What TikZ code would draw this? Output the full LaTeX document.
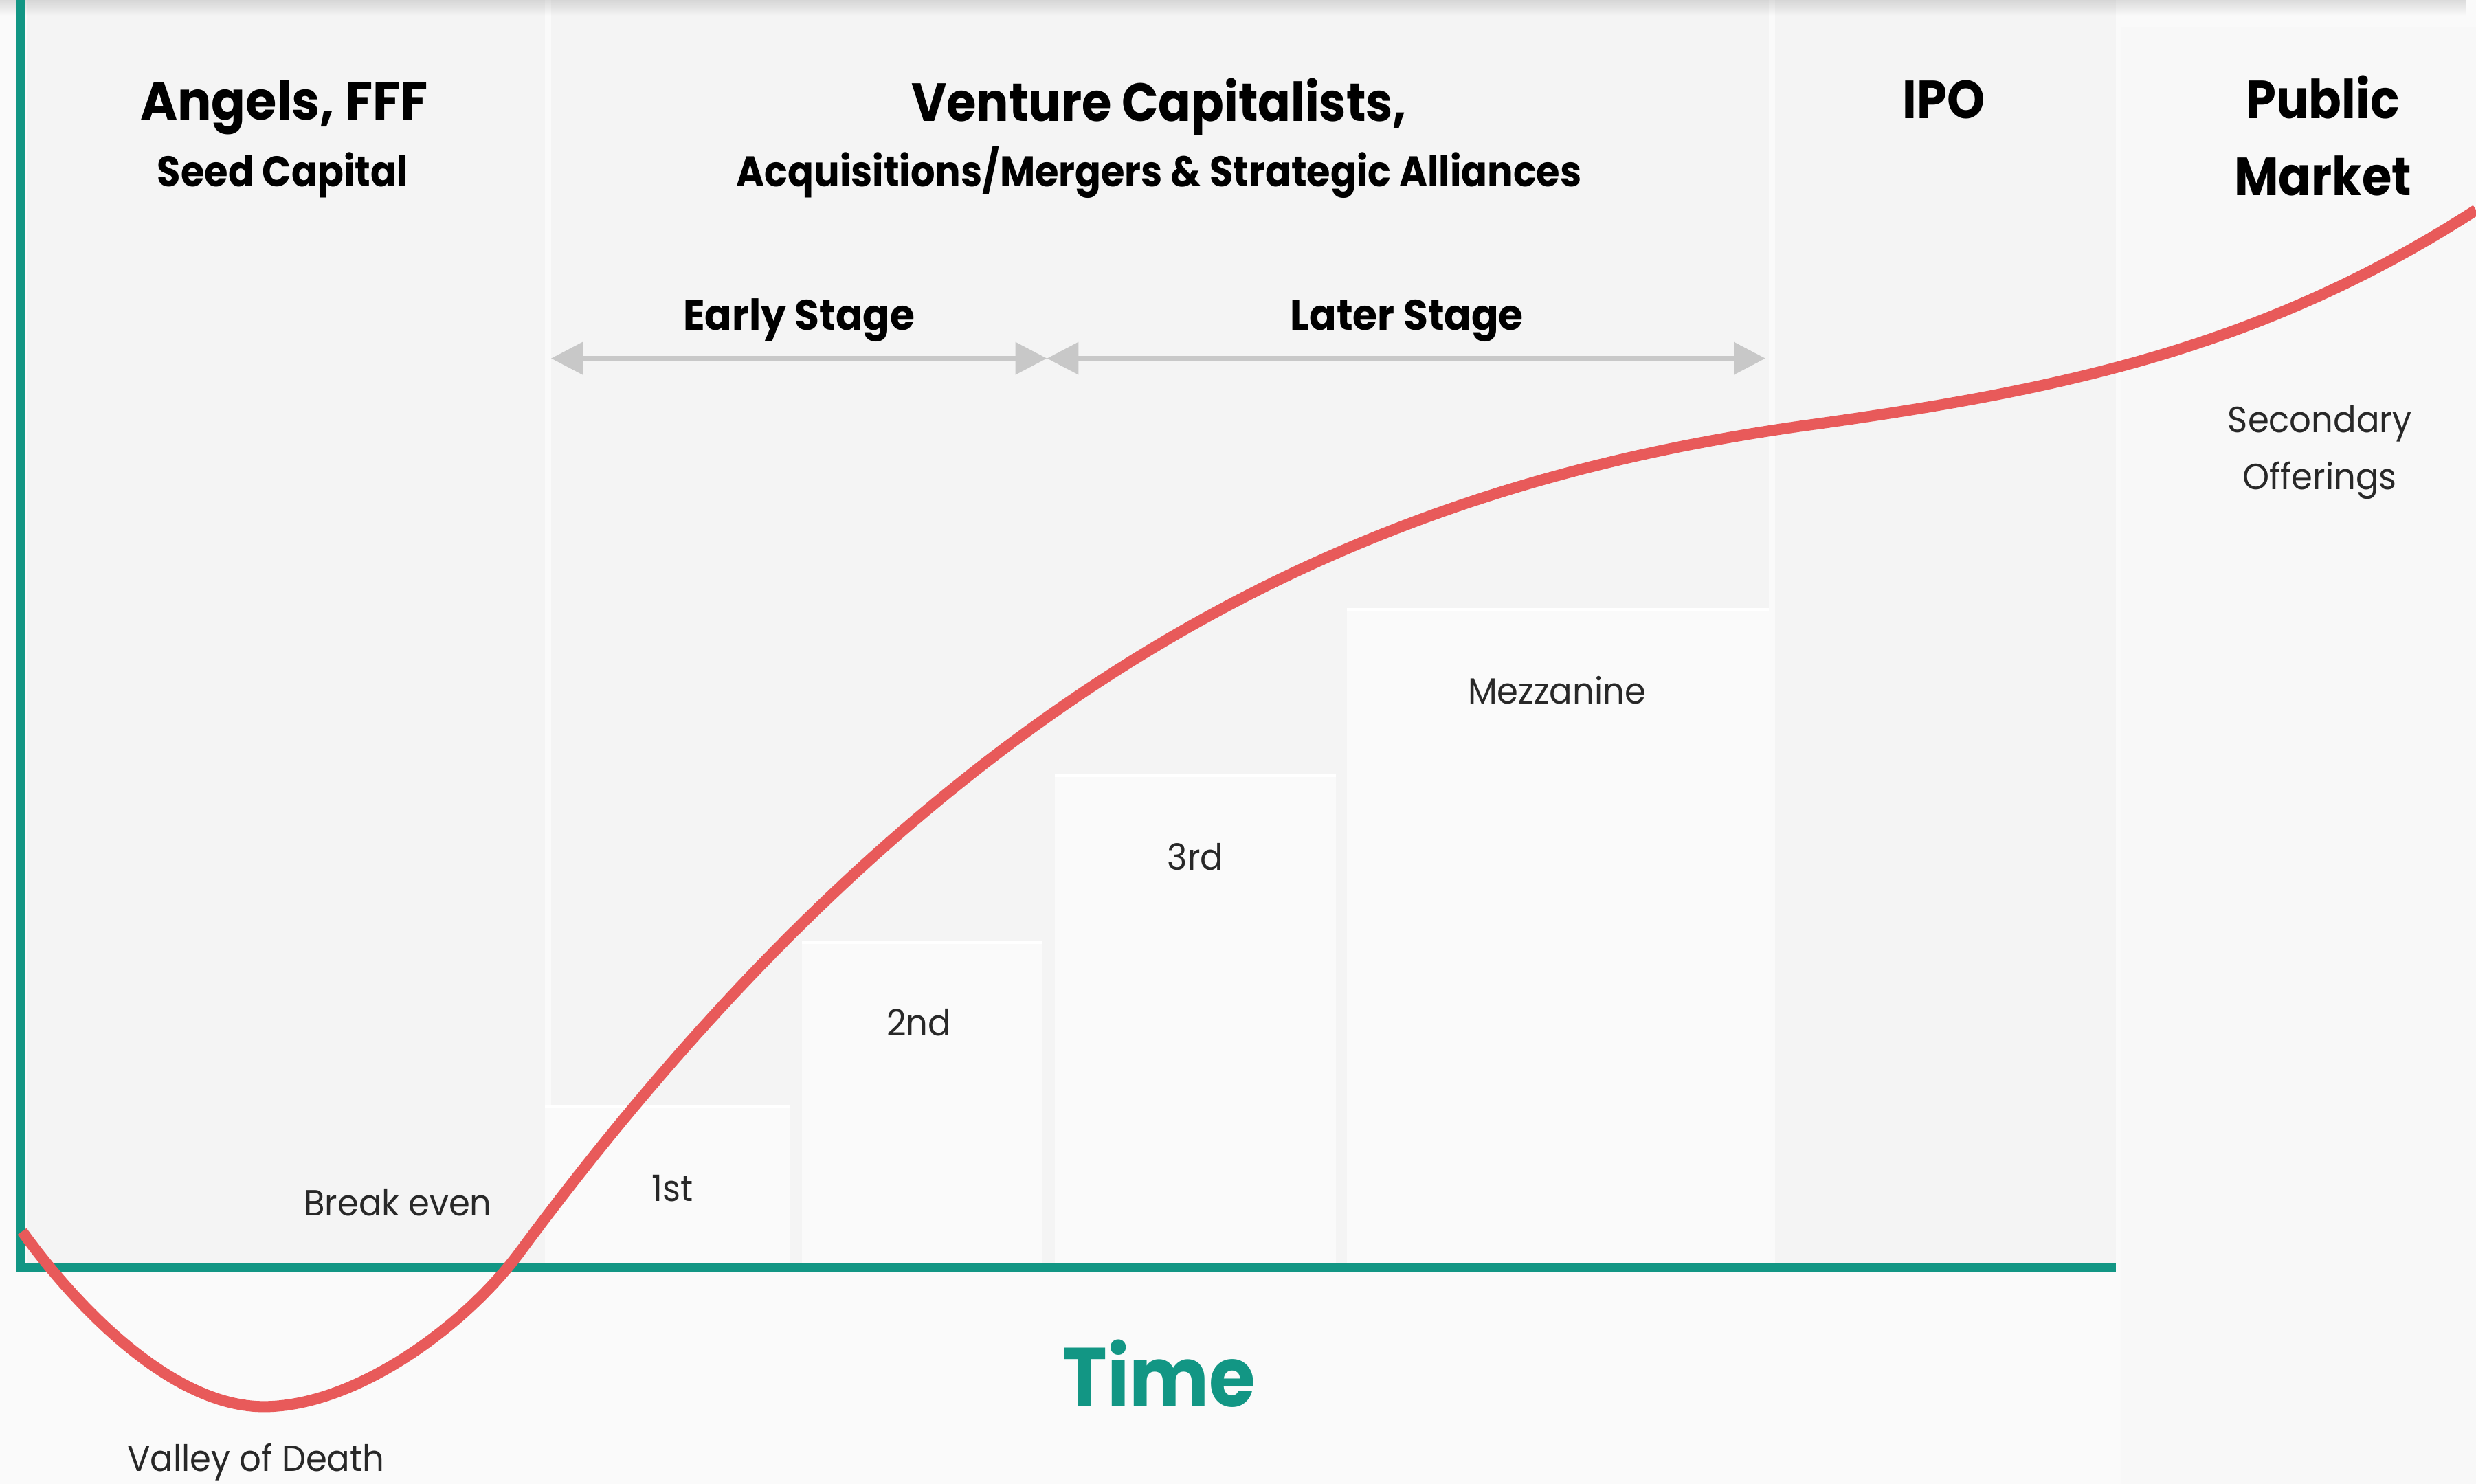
\documentclass[tikz,border=0pt]{standalone}
\usepackage{fontspec}
\setmainfont{Poppins}
\newfontfamily\narrowfont{Poppins}[FakeStretch=0.9]
\newfontfamily\semifont{Poppins}[FakeStretch=0.94]
\usetikzlibrary{arrows.meta,fadings}
\definecolor{axisgreen}{RGB}{18,150,132}
\definecolor{curvered}{RGB}{232,90,90}
\definecolor{bgc}{RGB}{250,250,250}
\definecolor{panelc}{RGB}{244,244,244}
\definecolor{pubc}{RGB}{248,248,248}
\definecolor{boxc}{RGB}{250,250,250}
\definecolor{arrowc}{RGB}{200,200,200}
\definecolor{labc}{RGB}{40,40,40}
\begin{document}
\begin{tikzpicture}[x=1pt,y=-1pt,
  head/.style={font=\narrowfont\fontsize{34}{49}\selectfont\bfseries, text=black, inner sep=0pt, anchor=base, align=center},
  sub/.style={font=\narrowfont\fontsize{27}{32}\selectfont\bfseries, text=black, inner sep=0pt, anchor=base},
  stage/.style={font=\semifont\fontsize{27}{32}\selectfont\bfseries, text=black, inner sep=0pt, anchor=base},
  lab/.style={font=\semifont\fontsize{23}{36}\selectfont, text=labc, inner sep=0pt, anchor=base, align=center},
  axisline/.style={draw=axisgreen, line width=6pt},
  growth/.style={draw=curvered, line width=7pt},
  span/.style={draw=arrowc, line width=3pt, {Triangle[length=20pt,width=20pt]}-{Triangle[length=20pt,width=20pt]}}
]
\useasboundingbox (0,0) rectangle (1568,940);
% background and panels
\fill[bgc] (0,0) rectangle (1568,940);
\fill[panelc] (17,0) rectangle (345,800);
\fill[panelc] (349,0) rectangle (1120,800);
\fill[panelc] (1124,0) rectangle (1340,800);
\fill[pubc] (1343,17) rectangle (1568,940);
% round boxes
\fill[boxc] (345,700) rectangle (500,800);
\fill[boxc] (508,596) rectangle (660,800);
\fill[boxc] (668,490) rectangle (846,800);
\fill[boxc] (853,385) rectangle (1120,800);
\draw[white, line width=2pt] (345,701) -- (500,701) (508,597) -- (660,597) (668,491) -- (846,491) (853,386) -- (1120,386);
% top shadow
\fill[black, opacity=0.12, path fading=south] (0,0) rectangle (1568,10);
% headings
\node[head, font=\semifont\fontsize{34}{49}\selectfont\bfseries] (angels) at (180,76) {Angels, FFF};
\node[sub] (seed) at (179,118) {Seed Capital};
\node[head] (vc) at (734,77) {Venture Capitalists,};
\node[sub] (acq) at (734,118) {Acquisitions/Mergers \& Strategic Alliances};
\node[head] (ipo) at (1231,75) {IPO};
\node[head] (public) at (1471,124) {Public\\Market};
% stages
\node[stage] (early) at (506,209) {Early Stage};
\node[stage] (later) at (891,209) {Later Stage};
\coordinate (es) at (349,227);
\coordinate (em) at (663,227);
\coordinate (le) at (1118,227);
\draw[span] (es) -- (em);
\draw[span] (em) -- (le);
% round labels
\node[lab] (first) at (426,761) {1st};
\node[lab] (second) at (582,656) {2nd};
\node[lab] (third) at (757,551) {3rd};
\node[lab] (mezz) at (986,446) {Mezzanine};
\node[lab] (secondary) at (1469,310) {Secondary\\Offerings};
\node[lab] (breakeven) at (252,770) {Break even};
\node[lab] (valley) at (162,932) {Valley of Death};
\node[font=\narrowfont\fontsize{53}{60}\selectfont\bfseries, text=axisgreen, inner sep=0pt, anchor=base] (time) at (734,891) {Time};
% axes
\coordinate (ytop) at (13,0);
\coordinate (origin) at (13,803);
\coordinate (xend) at (1340,803);
\draw[axisline] (ytop) -- (13,806);
\draw[axisline] (10,803) -- (xend);
% growth curve
\draw[growth] (14,780) .. controls (50,830) and (110,891) .. (167,891)
  .. controls (225,891) and (295,840) .. (330,792)
  .. controls (610,414) and (880,307) .. (1140,270)
  .. controls (1300,248) and (1430,222) .. (1568,133);
\end{tikzpicture}
\end{document}
